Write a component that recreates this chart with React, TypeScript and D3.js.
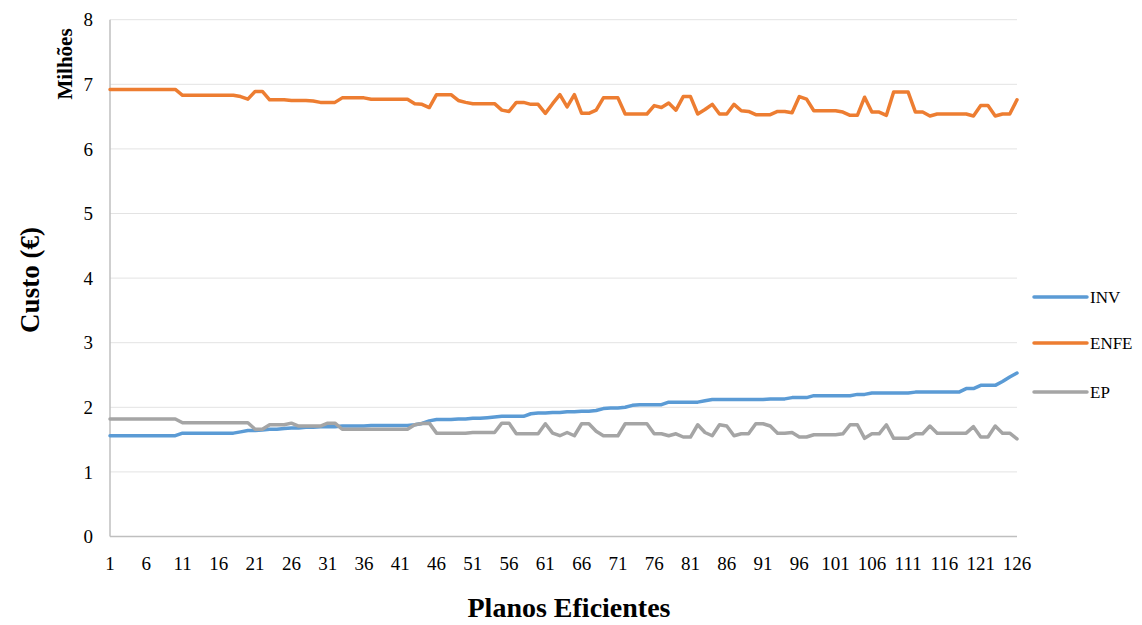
import React from "react";
import * as d3 from "d3";

const INV: number[] = [
  1.56, 1.56, 1.56, 1.56, 1.56, 1.56, 1.56, 1.56, 1.56, 1.56,
  1.6, 1.6, 1.6, 1.6, 1.6, 1.6, 1.6, 1.6, 1.62, 1.64,
  1.64, 1.65, 1.66, 1.66, 1.67, 1.68, 1.68, 1.69, 1.69, 1.7,
  1.7, 1.7, 1.71, 1.71, 1.71, 1.71, 1.72, 1.72, 1.72, 1.72,
  1.72, 1.72, 1.73, 1.75, 1.79, 1.81, 1.81, 1.81, 1.82, 1.82,
  1.83, 1.83, 1.84, 1.85, 1.86, 1.86, 1.86, 1.86, 1.9, 1.91,
  1.91, 1.92, 1.92, 1.93, 1.93, 1.94, 1.94, 1.95, 1.98, 1.99,
  1.99, 2.0, 2.03, 2.04, 2.04, 2.04, 2.04, 2.08, 2.08, 2.08,
  2.08, 2.08, 2.1, 2.12, 2.12, 2.12, 2.12, 2.12, 2.12, 2.12,
  2.12, 2.13, 2.13, 2.13, 2.15, 2.15, 2.15, 2.18, 2.18, 2.18,
  2.18, 2.18, 2.18, 2.2, 2.2, 2.22, 2.22, 2.22, 2.22, 2.22,
  2.22, 2.235, 2.235, 2.235, 2.235, 2.235, 2.235, 2.235, 2.29, 2.29,
  2.34, 2.34, 2.34, 2.4, 2.47, 2.53,
];

const ENFE: number[] = [
  6.92, 6.92, 6.92, 6.92, 6.92, 6.92, 6.92, 6.92, 6.92, 6.92,
  6.83, 6.83, 6.83, 6.83, 6.83, 6.83, 6.83, 6.83, 6.81, 6.77,
  6.89, 6.89, 6.76, 6.76, 6.76, 6.75, 6.75, 6.75, 6.74, 6.72,
  6.72, 6.72, 6.79, 6.79, 6.79, 6.79, 6.77, 6.77, 6.77, 6.77,
  6.77, 6.77, 6.7, 6.69, 6.64, 6.84, 6.84, 6.84, 6.75, 6.72,
  6.7, 6.7, 6.7, 6.7, 6.6, 6.58, 6.72, 6.72, 6.69, 6.69,
  6.55, 6.7, 6.84, 6.65, 6.84, 6.55, 6.55, 6.6, 6.79, 6.79,
  6.79, 6.54, 6.54, 6.54, 6.54, 6.67, 6.64, 6.71, 6.6, 6.81,
  6.81, 6.54, 6.61, 6.69, 6.54, 6.54, 6.69, 6.59, 6.58, 6.53,
  6.53, 6.53, 6.58, 6.58, 6.56, 6.81, 6.77, 6.59, 6.59, 6.59,
  6.59, 6.57, 6.52, 6.52, 6.8, 6.57, 6.57, 6.52, 6.88, 6.88,
  6.88, 6.57, 6.57, 6.51, 6.54, 6.54, 6.54, 6.54, 6.54, 6.51,
  6.67, 6.67, 6.51, 6.54, 6.54, 6.76,
];

const EP: number[] = [
  1.82, 1.82, 1.82, 1.82, 1.82, 1.82, 1.82, 1.82, 1.82, 1.82,
  1.76, 1.76, 1.76, 1.76, 1.76, 1.76, 1.76, 1.76, 1.76, 1.76,
  1.66, 1.66, 1.73, 1.73, 1.73, 1.755, 1.71, 1.71, 1.71, 1.71,
  1.755, 1.755, 1.66, 1.66, 1.66, 1.66, 1.66, 1.66, 1.66, 1.66,
  1.66, 1.66, 1.73, 1.75, 1.755, 1.6, 1.6, 1.6, 1.6, 1.6,
  1.61, 1.61, 1.61, 1.61, 1.755, 1.755, 1.59, 1.59, 1.59, 1.59,
  1.745, 1.6, 1.56, 1.61, 1.56, 1.745, 1.745, 1.63, 1.56, 1.56,
  1.56, 1.745, 1.745, 1.745, 1.745, 1.59, 1.59, 1.56, 1.59, 1.54,
  1.54, 1.73, 1.61, 1.56, 1.73, 1.71, 1.56, 1.59, 1.59, 1.745,
  1.745, 1.71, 1.6, 1.6, 1.61, 1.54, 1.54, 1.575, 1.575, 1.575,
  1.575, 1.59, 1.73, 1.73, 1.52, 1.59, 1.59, 1.73, 1.52, 1.52,
  1.52, 1.59, 1.59, 1.71, 1.6, 1.6, 1.6, 1.6, 1.6, 1.7,
  1.54, 1.54, 1.71, 1.6, 1.6, 1.51,
];

const SERIES_NAMES = ["INV", "ENFE", "EP"];
const SERIES_COLORS = ["#5B9BD5", "#ED7D31", "#A5A5A5"];
const Y_TICKS = [0, 1, 2, 3, 4, 5, 6, 7, 8];
const X_TICKS = d3.range(1, 127, 5);

const W = 1142;
const H = 625;
const FONT = "'Liberation Serif', 'Times New Roman', serif";

export default function App() {
  const x = d3.scaleLinear().domain([1, 126]).range([110, 1017]);
  const y = d3.scaleLinear().domain([0, 8]).range([536.5, 19.7]);
  const allSeries = [INV, ENFE, EP];
  const line = d3
    .line<number>()
    .x((_, i) => x(i + 1))
    .y((d) => y(d));

  const legendY = [297, 343, 392];

  return (
    <svg
      width={W}
      height={H}
      style={{ position: "absolute", left: 0, top: 0, background: "#fff" }}
      fontFamily={FONT}
    >
      <rect x={0} y={0} width={W} height={H} fill="#fff" />
      {Y_TICKS.filter((t) => t > 0).map((t) => (
        <line key={"g" + t} x1={110} x2={1017} y1={y(t)} y2={y(t)} stroke="#e3e3e3" strokeWidth={1} />
      ))}
      <line x1={110} x2={110} y1={y(8)} y2={y(0)} stroke="#bfbfbf" strokeWidth={1.5} />
      <line x1={110} x2={1017} y1={y(0)} y2={y(0)} stroke="#bfbfbf" strokeWidth={1.5} />
      {Y_TICKS.map((t) => (
        <text key={"yt" + t} x={93} y={y(t)} dy="0.35em" textAnchor="end" fontSize={19} fill="#000">
          {t}
        </text>
      ))}
      {X_TICKS.map((t) => (
        <text key={"xt" + t} x={x(t)} y={570} textAnchor="middle" fontSize={19} fill="#000">
          {t}
        </text>
      ))}
      {allSeries.map((s, i) => (
        <path
          key={SERIES_NAMES[i]}
          d={line(s) || ""}
          fill="none"
          stroke={SERIES_COLORS[i]}
          strokeWidth={3.5}
          strokeLinejoin="round"
          strokeLinecap="round"
        />
      ))}
      <text
        transform="translate(72,64) rotate(-90)"
        textAnchor="middle"
        fontSize={21}
        fontWeight="bold"
        fill="#000"
      >
        Milhões
      </text>
      <text
        transform="translate(39,280) rotate(-90)"
        textAnchor="middle"
        fontSize={27}
        fontWeight="bold"
        fill="#000"
      >
        Custo (€)
      </text>
      <text x={569} y={617} textAnchor="middle" fontSize={28} fontWeight="bold" fill="#000">
        Planos Eficientes
      </text>
      {SERIES_NAMES.map((n, i) => (
        <g key={"lg" + n}>
          <line x1={1034} x2={1087} y1={legendY[i]} y2={legendY[i]} stroke={SERIES_COLORS[i]} strokeWidth={3.5} strokeLinecap="round" />
          <text x={1090} y={legendY[i]} dy="0.35em" fontSize={17} fill="#000">
            {n}
          </text>
        </g>
      ))}
    </svg>
  );
}
